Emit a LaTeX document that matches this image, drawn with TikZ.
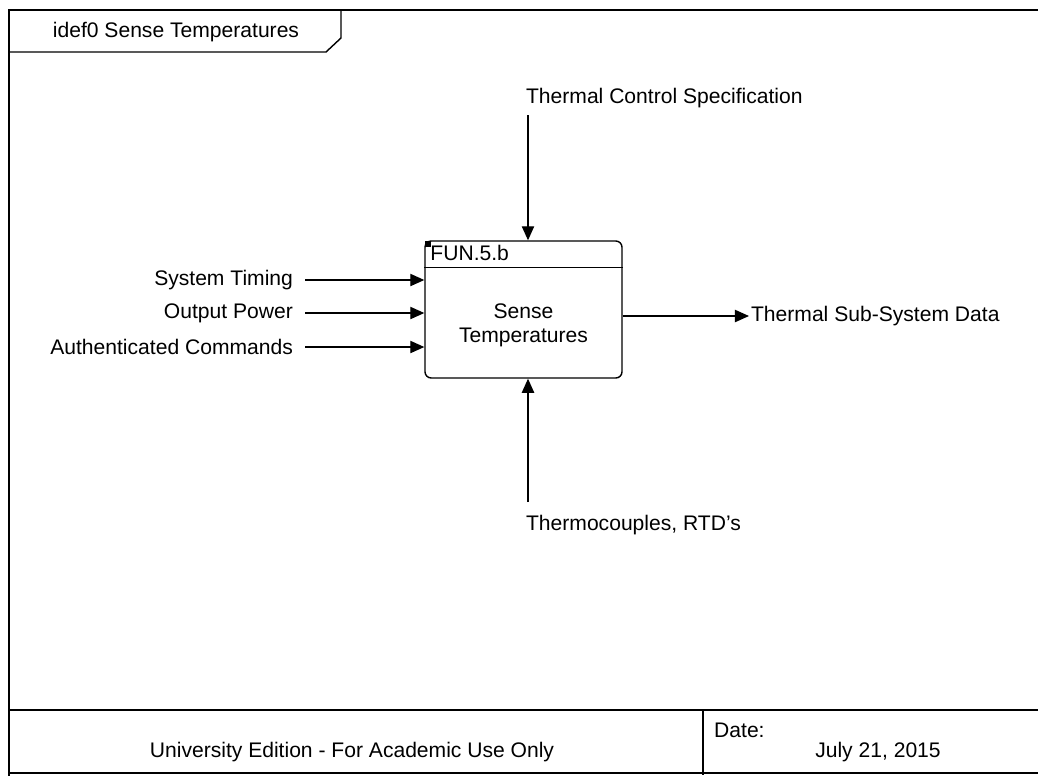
\documentclass[tikz,border=0pt]{standalone}
\usepackage{fontspec}
\setmainfont{Liberation Sans}
\usetikzlibrary{arrows.meta,positioning}

\begin{document}
\begin{tikzpicture}[x=0.02cm, y=-0.02cm, font=\fontsize{12}{14}\selectfont,
  flow/.style={-{Triangle[length=8pt,width=7pt]}, line width=0.7pt},
  lbl/.style={inner sep=1pt},
  funbox/.style={draw, line width=0.8pt, rounded corners=3.5pt,
                 minimum width=3.94cm, minimum height=2.74cm}]
\useasboundingbox (0,0) rectangle (1038,775);
\clip (0,0) rectangle (1038,775);

% ---- sheet frame and title tab -------------------------------------------
\draw[line width=1.2pt] (9,780) -- (9,10) -- (1050,10);
\draw[line width=1.2pt] (9,773) -- (1050,773);
\draw[line width=0.8pt] (9,52) -- (326,52) -- (341,38) -- (341,10);
\node (title) at (176,32) {idef0 Sense Temperatures};

% ---- function box --------------------------------------------------------
\node[funbox] (fun) at (523.5,309.5) {};
\draw[line width=0.8pt] ([yshift=-0.54cm]fun.north west) -- ([yshift=-0.54cm]fun.north east);
\fill (425,241) rectangle (431,247);
\node[lbl, anchor=north west] (funid) at ([xshift=0.08cm,yshift=-0.06cm]fun.north west) {FUN.5.b};
\node[align=center] (funname) at ([yshift=-0.32cm]fun.center) {Sense\\Temperatures};

% ---- control and mechanism -----------------------------------------------
\node[lbl, anchor=west] (ctrl) at (524,98) {Thermal Control Specification};
\coordinate (ctrltop) at (528,115);
\draw[flow] (ctrltop) -- (ctrltop |- fun.north);
\node[lbl, anchor=west] (mech) at (524,525) {Thermocouples, RTD's};
\coordinate (mechbot) at (528,502);
\draw[flow] (mechbot) -- (mechbot |- fun.south);

% ---- inputs --------------------------------------------------------------
\foreach \y/\nm/\txt in {280/timing/System Timing, 313/power/Output Power,
                         347/cmds/Authenticated Commands}{
  \node[lbl, anchor=east] (\nm) at (295,\y) {\txt};
  \draw[flow] ([xshift=0.2cm]\nm.east) -- (\nm.east -| fun.west);
}

% ---- output --------------------------------------------------------------
\node[lbl, anchor=west] (out) at (749,316) {Thermal Sub-System Data};
\draw[flow] (fun.east |- out.west) -- (out.west);

% ---- footer --------------------------------------------------------------
\draw[line width=1.6pt] (9,710) -- (1050,710);
\draw[line width=0.8pt] (703,710) -- (703,775);
\node (edition) at (352,752) {University Edition - For Academic Use Only};
\node[anchor=west] (datelbl) at (708,730) {Date:};
\node (date) at (878,752) {July 21, 2015};
\end{tikzpicture}
\end{document}
